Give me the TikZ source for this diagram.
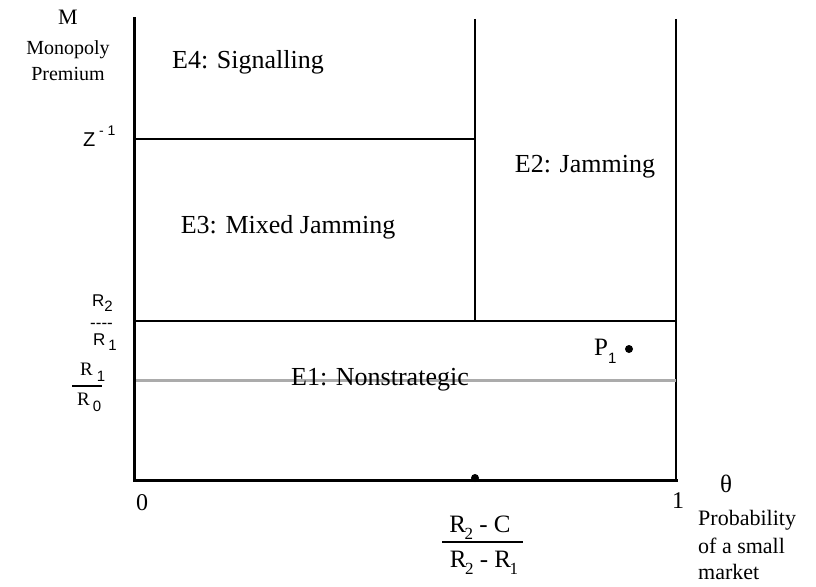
\documentclass[tikz,border=0pt]{standalone}
\usepackage{fontspec}
\setmainfont{Liberation Serif}
\setsansfont{Liberation Sans}
% font size helper (1pt of text = 1 unit of the picture)
\newcommand\fsz[1]{\fontsize{#1}{#1}\selectfont}
% subscript set close to the letter, in sans
\newcommand\ssub[2]{\kern#1\raisebox{-0.32em}{\sffamily\fsz{15}#2}}
\newcommand\rsub[2]{\kern#1\raisebox{-0.3em}{\fsz{17}#2}}
\begin{document}
\begin{tikzpicture}[x=1pt,y=-1pt,
  txt/.style={inner sep=0pt, anchor=base},
  region/.style={txt, font=\fsz{26}},
  axisline/.style={line width=3pt},
  border/.style={line width=1.8pt},
  threshold/.style={line width=3pt, draw=black!33},
  fracbar/.style={line width=1.4pt},
  dotmark/.style={circle, fill=black, inner sep=0pt, minimum size=8pt}]
\useasboundingbox (0,0) rectangle (816,586);

% corners of the region plot
\coordinate (top) at (134,19);
\coordinate (origin) at (134,480);
\coordinate (xend) at (676,480);
\coordinate (rtop) at (676,19);
\coordinate (mtop) at (475,19);
\coordinate (mbot) at (475,321);
\coordinate (zl) at (134,139);
\coordinate (zr) at (475,139);
\coordinate (rl) at (134,321);
\coordinate (rr) at (676,321);
\coordinate (gl) at (134,380);
\coordinate (gr) at (676,380);

% boundaries between the equilibria
\draw[border] (rtop) -- (xend);
\draw[border] (mtop) -- (mbot);
\draw[border] (zl) -- (zr);
\draw[border] (rl) -- (rr);
\draw[threshold] (gl) -- (gr);

% axes
\draw[axisline, line cap=rect] (top) -- (origin) -- (xend);

% marked points
\node[dotmark] (cut) at (475,478) {};
\node[dotmark] (p1dot) at (629,349) {};

% region labels
\node[region] (e4) at (248,69) {E4: Signalling};
\node[region] (e2) at (585,172) {E2: Jamming};
\node[region] (e3) at (288,233) {E3: Mixed Jamming};
\node[region] (e1) at (380,385) {E1: Nonstrategic};

% point P1
\node[txt, anchor=base west, font=\fsz{25}] (p1) at (594,355) {P\ssub{0pt}{1}};

% vertical axis labels
\node[txt, font=\fsz{22}] (ylab) at (68,25) {M};
\node[txt, font=\fsz{20}] (ylab2) at (68,55) {Monopoly};
\node[txt, font=\fsz{20}] (ylab3) at (68,80) {Premium};

\node[txt, anchor=base west, font=\sffamily\fsz{20}] (zinv) at (83,146) {Z};
\node[txt, anchor=base west, font=\sffamily\fsz{14}] (zexp) at (99,135) {- 1};

\node[txt, anchor=base west, font=\sffamily\fsz{17}] (r21n) at (92,306) {R\ssub{0pt}{2}};
\node[txt, anchor=base west, font=\sffamily\fsz{17}] (r21b) at (90,328) {\mbox{-}\mbox{-}\mbox{-}\mbox{-}};
\node[txt, anchor=base west, font=\sffamily\fsz{17}] (r21d) at (93,345) {R\ssub{3pt}{1}};

\coordinate (bl) at (72,386);
\coordinate (br) at (102,386);
\node[txt, anchor=base west, font=\fsz{19}] (r10n) at (80,375) {R\ssub{4pt}{1}};
\draw[fracbar] (bl) -- (br);
\node[txt, anchor=base west, font=\fsz{19}] (r10d) at (77,405) {R\ssub{3pt}{0}};

% horizontal axis labels
\node[txt, font=\fsz{24}] (x0) at (142,510) {0};
\node[txt, font=\fsz{24}] (x1) at (678,508) {1};
\node[txt, font=\fsz{25}] (theta) at (726,492) {θ};
\node[txt, anchor=base west, font=\fsz{22}] (xl1) at (698,525) {Probability};
\node[txt, anchor=base west, font=\fsz{22}] (xl2) at (698,553) {of a small};
\node[txt, anchor=base west, font=\fsz{22}] (xl3) at (698,579) {market};

\node[txt, font=\fsz{25}] (fnum) at (480,532) {R\rsub{-1.5pt}{2} - C};
\coordinate (fbl) at (442,542);
\coordinate (fbr) at (523,542);
\draw[fracbar] (fbl) -- (fbr);
\node[txt, font=\fsz{25}] (fden) at (484,567) {R\rsub{-1.5pt}{2} - R\rsub{-1.5pt}{1}};
\end{tikzpicture}
\end{document}
